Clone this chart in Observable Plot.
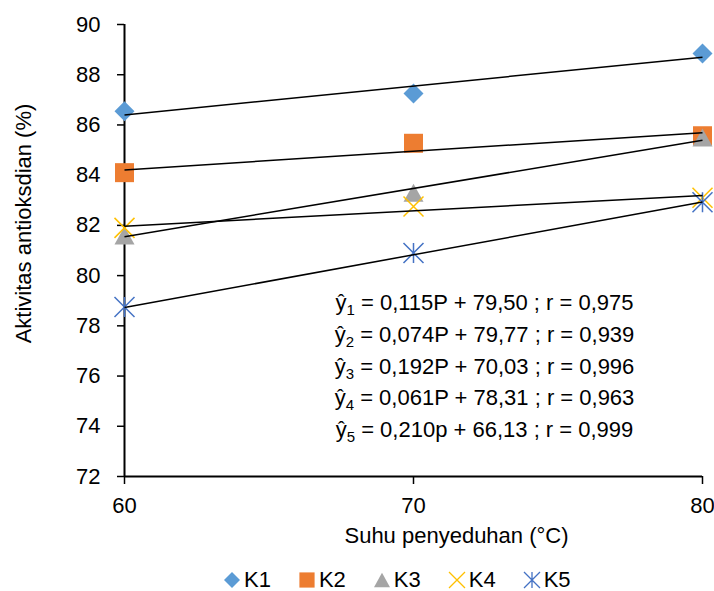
<!DOCTYPE html>
<html><head><meta charset="utf-8">
<script src="https://cdn.jsdelivr.net/npm/d3@7"></script>
<script src="https://cdn.jsdelivr.net/npm/@observablehq/plot@0.6"></script>
<style>
html,body{margin:0;padding:0;background:#fff;overflow:hidden;}
body{font-family:"Liberation Sans",Arial,sans-serif;width:714px;height:591px;}
#legend{display:flex;justify-content:flex-start;align-items:center;gap:27px;height:22px;margin-top:21px;padding-left:223px;font-size:22px;color:#000;}
#legend .item{display:flex;align-items:center;gap:3px;}
#legend svg{display:block;}
</style></head><body>
<div id="chart"></div>
<div id="legend"></div>
<script>
// ---- data ----
const temps = [60, 70, 80];
const series = ["K1", "K2", "K3", "K4", "K5"];
const k1 = [86.55, 87.25, 88.85];
const k2 = [84.10, 85.27, 85.57];
const k3 = [81.60, 83.30, 85.50];
const k4 = [81.90, 82.75, 83.10];
const k5 = [78.75, 80.90, 82.92];
const slopes = [0.115, 0.074, 0.192, 0.061, 0.210];
const intercepts = [79.50, 79.77, 70.03, 78.31, 66.13];
const equations = [
  "ŷ1 = 0,115P + 79,50 ; r = 0,975",
  "ŷ2 = 0,074P + 79,77 ; r = 0,939",
  "ŷ3 = 0,192P + 70,03 ; r = 0,996",
  "ŷ4 = 0,061P + 78,31 ; r = 0,963",
  "ŷ5 = 0,210p + 66,13 ; r = 0,999"
];
const yTicks = [72, 74, 76, 78, 80, 82, 84, 86, 88, 90];
const xTicks = [60, 70, 80];
const xLabel = "Suhu penyeduhan (°C)";
const yLabel = "Aktivitas antioksdian (%)";

// ---- styles ----
const colors = ["#5B9BD5", "#ED7D31", "#A5A5A5", "#FFC000", "#4472C4"];
const rad = s => Math.sqrt(s / Math.PI);
const symbols = [
  {draw(c, s) { const r = rad(s); c.moveTo(0, -r); c.lineTo(r, 0); c.lineTo(0, r); c.lineTo(-r, 0); c.closePath(); }},
  {draw(c, s) { const r = rad(s) * 0.95; c.rect(-r, -r, 2 * r, 2 * r); }},
  {draw(c, s) { const r = rad(s); c.moveTo(0, -r * 0.9); c.lineTo(r, r * 0.9); c.lineTo(-r, r * 0.9); c.closePath(); }},
  {draw(c, s) { const r = rad(s); c.moveTo(-r, -r); c.lineTo(r, r); c.moveTo(-r, r); c.lineTo(r, -r); }},
  {draw(c, s) { const r = rad(s); c.moveTo(-r, -r); c.lineTo(r, r); c.moveTo(-r, r); c.lineTo(r, -r); c.moveTo(0, -r); c.lineTo(0, r); }}
];
const filled = [true, true, true, false, false];

const valuesBySeries = [k1, k2, k3, k4, k5];
const rows = series.flatMap((s, i) => temps.map((t, j) => ({series: s, i, temp: t, value: valuesBySeries[i][j]})));
const [xmin, xmax] = d3.extent(temps);
const trends = series.map((s, i) => ({series: s, x1: xmin, x2: xmax, y1: slopes[i] * xmin + intercepts[i], y2: slopes[i] * xmax + intercepts[i]}));

const font = "'Liberation Sans', Arial, sans-serif";
const plot = Plot.plot({
  width: 714,
  height: 548,
  marginLeft: 124,
  marginRight: 12,
  marginTop: 24,
  marginBottom: 72,
  style: {fontFamily: font, fontSize: "22px", color: "#000", background: "#fff", overflow: "visible"},
  x: {domain: [xmin, xmax]},
  y: {domain: [72, 90]},
  marks: [
    Plot.axisY(yTicks, {tickSize: 7, tickPadding: 17, fontSize: 22, stroke: "#000", strokeWidth: 1.5, label: null}),
    Plot.axisX(xTicks, {tickSize: 8, tickPadding: 13, fontSize: 22, stroke: "#000", strokeWidth: 1.5, label: null}),
    Plot.ruleX([xmin], {stroke: "#000", strokeWidth: 2}),
    Plot.ruleY([72], {stroke: "#000", strokeWidth: 2}),
    ...series.map((s, i) => Plot.dot(rows.filter(d => d.i === i), {
      x: "temp", y: "value", symbol: symbols[i], r: 10,
      fill: filled[i] ? colors[i] : "none",
      stroke: filled[i] ? "none" : colors[i],
      strokeWidth: 1.5
    })),
    Plot.link(trends, {x1: "x1", x2: "x2", y1: "y1", y2: "y2", stroke: "#000", strokeWidth: 1.5}),
    Plot.text([equations.join("\n")], {frameAnchor: "middle", dx: 71, dy: 113, lineHeight: 1.44, fontSize: 22, fill: "#000", textAnchor: "middle", lineAnchor: "middle"}),
    Plot.text([xLabel], {frameAnchor: "bottom", dx: 43, dy: 59, fontSize: 22, fill: "#000", textAnchor: "middle", lineAnchor: "middle"}),
    Plot.text([yLabel], {frameAnchor: "left", rotate: -90, dx: -101, dy: -27, fontSize: 22, fill: "#000", textAnchor: "middle", lineAnchor: "middle"})
  ]
});
document.getElementById("chart").append(plot);

// subscripts in the equations
const NS = "http://www.w3.org/2000/svg";
plot.querySelectorAll("tspan").forEach(t => {
  const m = t.textContent.match(/^ŷ(\d)(.*)$/);
  if (!m) return;
  t.textContent = "ŷ";
  const sub = document.createElementNS(NS, "tspan");
  sub.setAttribute("dy", "5");
  sub.setAttribute("font-size", "15");
  sub.textContent = m[1];
  const rest = document.createElementNS(NS, "tspan");
  rest.setAttribute("dy", "-5");
  rest.textContent = m[2];
  t.append(sub, rest);
});

// legend
const legend = d3.select("#legend");
series.forEach((s, i) => {
  const item = legend.append("div").attr("class", "item");
  const svg = item.append("svg").attr("width", 18).attr("height", 18).attr("viewBox", "-9 -9 18 18");
  svg.append("path")
    .attr("d", d3.symbol(symbols[i], Math.PI * 8 * 8)())
    .attr("fill", filled[i] ? colors[i] : "none")
    .attr("stroke", filled[i] ? "none" : colors[i])
    .attr("stroke-width", 1.3);
  item.append("span").text(s);
});
</script>
</body></html>
